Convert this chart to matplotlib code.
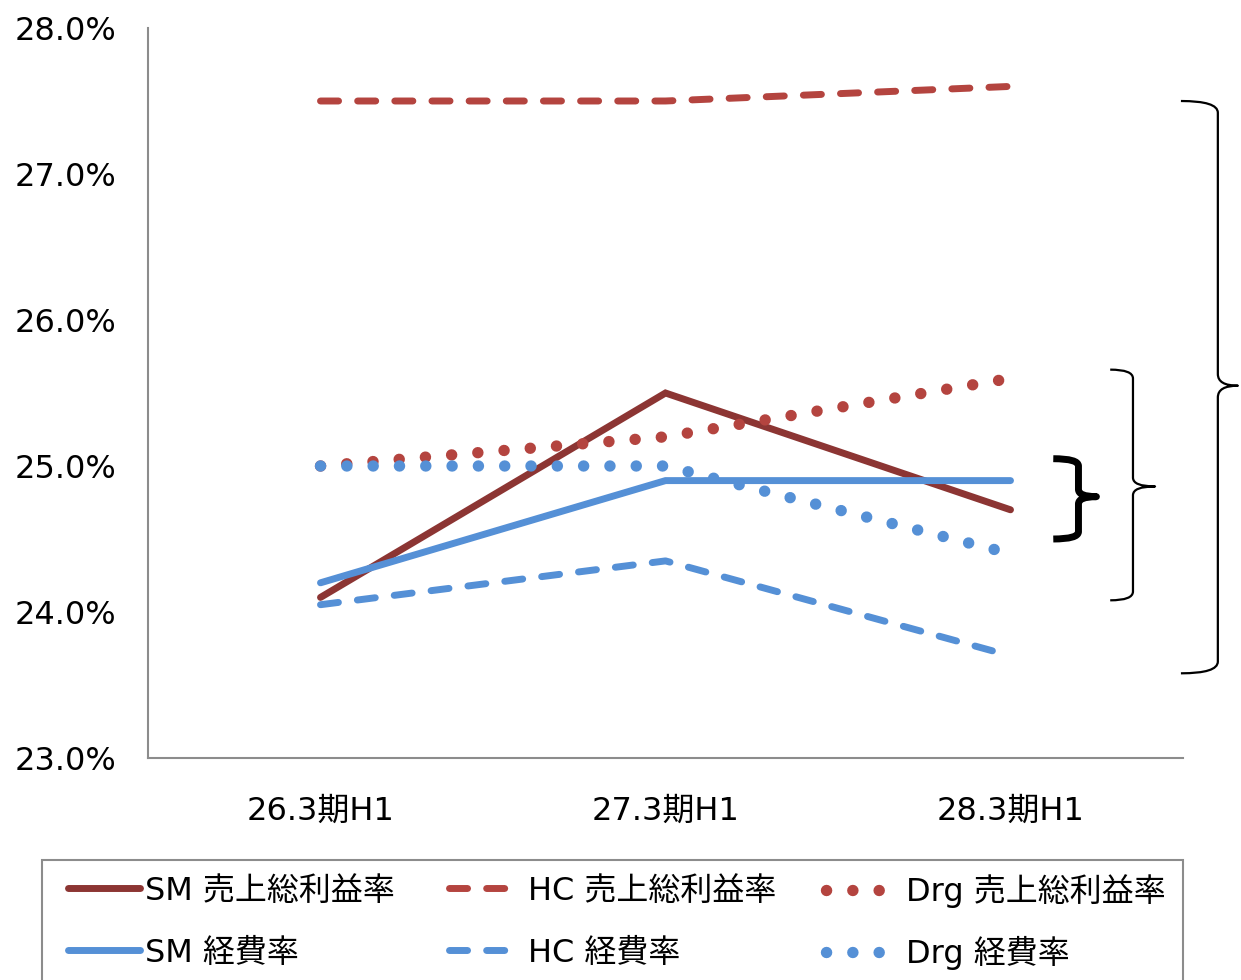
import numpy as np
import matplotlib
matplotlib.use("Agg")
import matplotlib.pyplot as plt
from matplotlib.path import Path
from matplotlib.patches import PathPatch, Rectangle
from matplotlib.ticker import FuncFormatter

plt.rcParams['font.family'] = ['DejaVu Sans', 'Noto Sans CJK JP']

# data (%)
periods = ["26.3期H1", "27.3期H1", "28.3期H1"]
sm_gross = [24.1, 25.5, 24.7]
hc_gross = [27.5, 27.5, 27.6]
drg_gross = [25.0, 25.2, 25.6]
sm_cost = [24.2, 24.9, 24.9]
hc_cost = [24.05, 24.35, 23.7]
drg_cost = [25.0, 25.0, 24.4]

dark_red = "#8C3533"
red = "#B4443F"
blue = "#5590D6"

W, H = 1241, 980
fig = plt.figure(figsize=(W / 100, H / 100), dpi=100)
ax = fig.add_axes([148/W, 1-758/H, (1183-148)/W, (758-28)/H])

x = np.arange(len(periods))
lw = 5.0
dash = (0, (2.6, 2.75))
dot_lw = 8.2
dot = (0, (0.01, 2.3))

l1, = ax.plot(x, sm_gross, color=dark_red, lw=lw, solid_capstyle='round',
              solid_joinstyle='miter', label="SM 売上総利益率")
l2, = ax.plot(x, hc_gross, color=red, lw=lw, ls=dash, dash_capstyle='round',
              label="HC 売上総利益率")
l3, = ax.plot(x, drg_gross, color=red, lw=dot_lw, ls=dot,
              dash_capstyle='round', label="Drg 売上総利益率")
l4, = ax.plot(x, sm_cost, color=blue, lw=lw, solid_capstyle='round',
              solid_joinstyle='miter', label="SM 経費率")
l5, = ax.plot(x, hc_cost, color=blue, lw=lw, ls=dash, dash_capstyle='round',
              label="HC 経費率")
l6, = ax.plot(x, drg_cost, color=blue, lw=dot_lw, ls=dot,
              dash_capstyle='round', label="Drg 経費率")

ax.set_xlim(-0.5, 2.5)
ax.set_ylim(23.0, 28.0)
ax.set_yticks([23, 24, 25, 26, 27, 28])
ax.yaxis.set_major_formatter(FuncFormatter(lambda v, p: f"{v:.1f}%"))
ax.set_xticks(x)
ax.set_xticklabels(periods)
ax.tick_params(axis='both', length=0, labelsize=23)
ax.tick_params(axis='y', pad=23)
ax.tick_params(axis='x', pad=27)
for s in ['top', 'right']:
    ax.spines[s].set_visible(False)
for s in ['left', 'bottom']:
    ax.spines[s].set_color('#8C8C8C')
    ax.spines[s].set_linewidth(1.5)


def brace(x0, xv, xtip, ytop, ybot, ymid, r, lw):
    # right curly brace: top arm, spine, pointer, spine, bottom arm
    verts = [(x0, ytop), (xv, ytop), (xv, ytop - r),
             (xv, ymid + r), (xv, ymid), (xtip, ymid),
             (xv, ymid), (xv, ymid - r),
             (xv, ybot + r), (xv, ybot), (x0, ybot)]
    codes = [Path.MOVETO, Path.CURVE3, Path.CURVE3,
             Path.LINETO, Path.CURVE3, Path.CURVE3,
             Path.CURVE3, Path.CURVE3,
             Path.LINETO, Path.CURVE3, Path.CURVE3]
    ax.add_patch(PathPatch(Path(verts, codes), fill=False, lw=lw,
                           edgecolor='black', clip_on=False,
                           capstyle='butt', joinstyle='round'))


brace(2.494, 2.601, 2.659, 27.5, 23.58, 25.55, 0.08, 1.6)
brace(2.289, 2.355, 2.419, 25.66, 24.08, 24.86, 0.06, 1.6)
brace(2.124, 2.197, 2.249, 25.05, 24.5, 24.79, 0.05, 5.0)

# legend frame runs past the bottom edge
fig.patches.append(Rectangle((42/W, -0.02), (1183-42)/W, 1.02-860/H,
                             transform=fig.transFigure, fill=False,
                             edgecolor='#8C8C8C', lw=1.5))

# one legend per entry so the grid lines up exactly
entries = [(l1, 68, 891, 0.15), (l2, 449, 891, 0.22), (l3, 826, 891, 0.26),
           (l4, 68, 953, 0.15), (l5, 449, 953, 0.22), (l6, 826, 953, 0.26)]
for h, px, py, pad in entries:
    fig.legend(handles=[h], loc='center left', bbox_to_anchor=(px/W, 1-py/H),
               frameon=False, fontsize=23, handlelength=2.25,
               handletextpad=pad, borderpad=0, borderaxespad=0)

fig.savefig("out.png", dpi=100)
